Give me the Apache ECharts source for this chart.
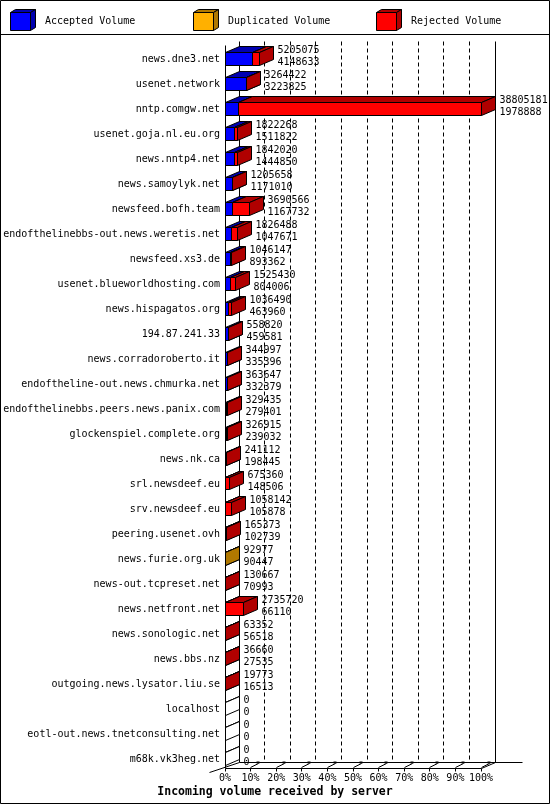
<!DOCTYPE html>
<html>
<head>
<meta charset="utf-8">
<script src="https://cdn.jsdelivr.net/npm/echarts@6/dist/echarts.min.js"></script>
<style>
html, body { margin: 0; padding: 0; background: #fff; }
#chart { width: 550px; height: 805px; }
</style>
</head>
<body>
<div id="chart"></div>
<script>
var hosts = [
    'news.dne3.net', 'usenet.network', 'nntp.comgw.net', 'usenet.goja.nl.eu.org',
    'news.nntp4.net', 'news.samoylyk.net', 'newsfeed.bofh.team',
    'endofthelinebbs-out.news.weretis.net', 'newsfeed.xs3.de',
    'usenet.blueworldhosting.com', 'news.hispagatos.org', '194.87.241.33',
    'news.corradoroberto.it', 'endoftheline-out.news.chmurka.net',
    'endofthelinebbs.peers.news.panix.com', 'glockenspiel.complete.org',
    'news.nk.ca', 'srl.newsdeef.eu', 'srv.newsdeef.eu', 'peering.usenet.ovh',
    'news.furie.org.uk', 'news-out.tcpreset.net', 'news.netfront.net',
    'news.sonologic.net', 'news.bbs.nz', 'outgoing.news.lysator.liu.se',
    'localhost', 'eotl-out.news.tnetconsulting.net', 'm68k.vk3heg.net'
];
var totalVolume = [
    5205075, 3264422, 38805181, 1822268, 1842020, 1205658, 3690566,
    1826488, 1046147, 1525430, 1036490, 558820, 344997, 363647,
    329435, 326915, 241112, 675360, 1058142, 165373, 92977, 130667,
    2735720, 63352, 36660, 19773, 0, 0, 0
];
var acceptedVolume = [
    4148633, 3223825, 1978888, 1511822, 1444850, 1171010, 1167732,
    1047671, 893362, 804006, 463960, 459581, 335396, 332379,
    279401, 239032, 198445, 148506, 105878, 102739, 90447, 70993,
    66110, 56518, 27535, 16513, 0, 0, 0
];
var duplicatedVolume = [
    0, 0, 0, 0, 0, 0, 0, 0, 0, 0, 0, 0, 0, 0, 0,
    0, 0, 0, 0, 0, 2530, 0, 0, 0, 0, 0, 0, 0, 0
];
var rejectedVolume = totalVolume.map(function (t, i) {
    return t - acceptedVolume[i] - duplicatedVolume[i];
});
var seriesNames = ['Accepted Volume', 'Duplicated Volume', 'Rejected Volume'];
var tickPercents = [0, 10, 20, 30, 40, 50, 60, 70, 80, 90, 100];

var frontColors = ['#0000ff', '#ffb000', '#ff0000'];
var shadeColors = ['#0000b0', '#b07800', '#b00000'];
var FONT = '10px "DejaVu Sans Mono", monospace';
var DX = 14, DY = 6; // 3d depth in pixels
var maxTotal = Math.max.apply(null, totalVolume);

function crisp(v) {
    return Math.round(v - 0.5) + 0.5;
}

function box(xs, xe, yT, yB, front, shade, dx, dy) {
    var a = crisp(xs), b = crisp(xe), t = crisp(yT), u = crisp(yB);
    var line = { stroke: '#000', lineWidth: 1 };
    return [
        { type: 'polygon', shape: { points: [[a, t], [a + dx, t - dy], [b + dx, t - dy], [b, t]] },
          style: Object.assign({ fill: shade }, line) },
        { type: 'polygon', shape: { points: [[b, t], [b + dx, t - dy], [b + dx, u - dy], [b, u]] },
          style: Object.assign({ fill: shade }, line) },
        { type: 'rect', shape: { x: a, y: t, width: b - a, height: u - t },
          style: Object.assign({ fill: front }, line) }
    ];
}

function seg(x1, y1, x2, y2, dash) {
    return {
        type: 'line',
        shape: { x1: x1, y1: y1, x2: x2, y2: y2 },
        style: { stroke: '#000', lineWidth: 1, lineDash: dash || null }
    };
}

// walls, floor and 3d ticks
function renderFrame(params, api) {
    var last = hosts.length - 1;
    var first = api.coord([0, 0]);
    var bottom = api.coord([0, last]);
    var x0 = crisp(first[0]);
    var x100 = crisp(api.coord([maxTotal, 0])[0]);
    var topBack = crisp(first[1] - 18.5);
    var topFront = topBack + 4;
    var floorFront = crisp(bottom[1] + 8.5);
    var floorBack = floorFront - DY;
    var children = [];

    tickPercents.forEach(function (p) {
        var x = crisp(api.coord([maxTotal * p / 100, 0])[0]);
        var dash = (p === 0 || p === 100) ? null : [4, 3];
        children.push(seg(x + DX, topBack, x + DX, floorBack, dash));
        children.push(seg(x, floorFront, x, floorFront + 3));
        if (p > 0) {
            children.push(seg(x, floorFront - 1, x + 8, floorFront - 5));
            children.push({ type: 'rect', shape: { x: x + 6, y: floorFront - 7, width: 3, height: 2 },
                style: { fill: '#000' } });
        }
    });
    children.push(seg(x0, topFront, x0, floorFront));
    children.push(seg(x0, floorFront, x100, floorFront));
    children.push(seg(x0 + DX, floorBack, x100 + DX + 27, floorBack));
    children.push(seg(x100, floorFront, x100 + DX, floorBack));
    children.push(seg(x0 - 16, floorFront + 4, x0 + DX, floorBack));
    return { type: 'group', children: children };
}

function renderBar(params, api) {
    var i = api.value(0);
    var vals = [api.value(1), api.value(2), api.value(3)];
    var total = api.value(4);
    var c = api.coord([0, i]);
    var yT = c[1] - 7, yB = c[1] + 5.5;
    var children = [];
    var acc = 0;
    var xe = c[0];
    if (!total) {
        children = children.concat(box(c[0], c[0], yT, yB, '#fff', '#fff', DX, DY));
    }
    vals.forEach(function (v, k) {
        if (v <= 0) return;
        var xs = api.coord([acc, i])[0];
        acc += v;
        xe = api.coord([acc, i])[0];
        children = children.concat(box(xs, xe, yT, yB, frontColors[k], shadeColors[k], DX, DY));
    });
    children.push({
        type: 'text',
        style: {
            text: totalVolume[i] + '\n' + acceptedVolume[i],
            x: crisp(xe) + DX + 4,
            y: c[1] - 3,
            verticalAlign: 'middle',
            font: FONT,
            lineHeight: 11.5,
            fill: '#000'
        }
    });
    return { type: 'group', children: children };
}

var barData = hosts.map(function (h, i) {
    return [i, acceptedVolume[i], duplicatedVolume[i], rejectedVolume[i], totalVolume[i]];
});

var legendX = [10, 193, 376];
var legendItems = [];
seriesNames.forEach(function (name, k) {
    var x = legendX[k];
    legendItems = legendItems.concat(box(x, x + 20, 12, 30, frontColors[k], shadeColors[k], 5, 3));
    legendItems.push({ type: 'text', style: { text: name, x: x + 35, y: 21, verticalAlign: 'middle',
        font: FONT, fill: '#000' } });
});

var chart = echarts.init(document.getElementById('chart'), null, { renderer: 'canvas' });
chart.setOption({
    backgroundColor: '#fff',
    animation: false,
    title: {
        text: 'Incoming volume received by server',
        left: 'center',
        top: 781,
        textStyle: { fontFamily: 'DejaVu Sans Mono', fontWeight: 'bold', fontSize: 11.5, color: '#000' }
    },
    grid: { left: 225, top: 47, width: 256, height: 725, outerBoundsMode: 'none', containLabel: false },
    xAxis: {
        type: 'value',
        min: 0,
        max: maxTotal,
        interval: maxTotal / 10,
        axisLine: { show: false },
        axisTick: { show: false },
        splitLine: { show: false },
        axisLabel: {
            margin: 1,
            fontFamily: 'DejaVu Sans Mono',
            fontSize: 10,
            color: '#000',
            formatter: function (v) { return tickPercents[Math.round(v / maxTotal * 10)] + '%'; }
        }
    },
    yAxis: {
        type: 'category',
        data: hosts,
        inverse: true,
        axisLine: { show: false },
        axisTick: { show: false },
        splitLine: { show: false },
        axisLabel: { margin: 5, fontFamily: 'DejaVu Sans Mono', fontSize: 10, color: '#000', interval: 0 }
    },
    graphic: [
        { type: 'rect', shape: { x: 0.5, y: 0.5, width: 549, height: 803 },
          style: { fill: null, stroke: '#000', lineWidth: 1 }, z: 100 },
        { type: 'line', shape: { x1: 0, y1: 34.5, x2: 550, y2: 34.5 },
          style: { stroke: '#000', lineWidth: 1 }, z: 100 },
        { type: 'group', children: legendItems, z: 100 }
    ],
    series: [
        {
            type: 'custom',
            name: 'frame',
            renderItem: renderFrame,
            data: [[0, 0]],
            clip: false,
            silent: true,
            z: 1
        },
        {
            type: 'custom',
            name: 'volume',
            renderItem: renderBar,
            data: barData,
            encode: { x: 4, y: 0 },
            clip: false,
            silent: true,
            z: 2
        }
    ]
});
</script>
</body>
</html>
